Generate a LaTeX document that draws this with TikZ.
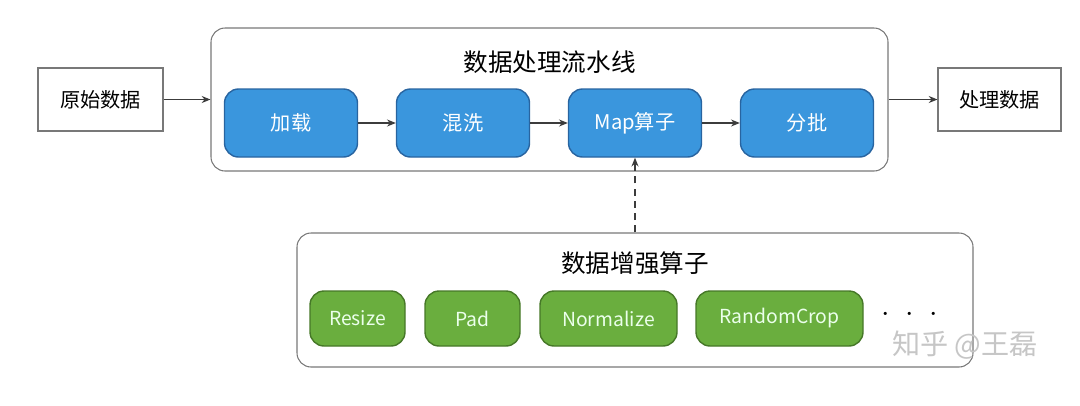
\documentclass[tikz,border=0pt]{standalone}
\usepackage{fontspec}
\setmainfont{Noto Sans CJK SC}
\usetikzlibrary{arrows.meta,positioning}
\definecolor{pipeblue}{RGB}{58,150,221}
\definecolor{pipeblueline}{RGB}{40,100,160}
\definecolor{auggreen}{RGB}{106,174,62}
\definecolor{auggreenline}{RGB}{70,120,40}
\definecolor{framegray}{RGB}{120,120,120}
\definecolor{arrowgray}{RGB}{60,60,60}

\begin{document}
\begin{tikzpicture}[
  iobox/.style={draw=framegray, line width=0.6pt, minimum width=2.48cm, minimum height=1.26cm, font=\fontsize{11.5}{13}\selectfont},
  groupbox/.style={draw=framegray, line width=0.6pt, rounded corners=8pt},
  stepbox/.style={rounded corners=8pt, draw=pipeblueline, fill=pipeblue, line width=0.8pt,
      minimum width=2.66cm, minimum height=1.36cm, text=white, font=\fontsize{11.5}{13}\selectfont},
  augbox/.style={rounded corners=8pt, draw=auggreenline, fill=auggreen, line width=0.8pt,
      minimum height=1.1cm, text=green!8, font=\fontsize{11}{13}\selectfont},
  flow/.style={-{Stealth[length=5pt,width=4pt]}, arrowgray, line width=0.6pt}
]
\useasboundingbox (0,0) rectangle (21.6,8.1);

% Pipeline box
\node[groupbox, minimum width=13.54cm, minimum height=2.86cm] (pipe) at (10.99,6.11) {};
\node[font=\fontsize{14}{16}\selectfont] (pipettl) at (10.99,6.86) {数据处理流水线};
\node[stepbox] (load) at (5.82,5.64) {加载};
\node[stepbox] (shuf) at (9.26,5.64) {混洗};
\node[stepbox] (map) at (12.70,5.64) {Map算子};
\node[stepbox] (batch) at (16.14,5.64) {分批};
\draw[flow] (load) -- (shuf);
\draw[flow] (shuf) -- (map);
\draw[flow] (map) -- (batch);

% Input and output
\node[iobox, minimum width=2.5cm] (raw) at (2.01,6.11) {原始数据};
\node[iobox, minimum width=2.46cm] (done) at (19.99,6.11) {处理数据};
\draw[flow] (raw) -- (pipe);
\draw[flow] (pipe) -- (done);

% Augmentation box
\node[groupbox, minimum width=13.52cm, minimum height=2.68cm] (aug) at (12.70,2.10) {};
\node[font=\fontsize{14}{16}\selectfont] (augttl) at (12.70,2.84) {数据增强算子};
\node[augbox, minimum width=1.9cm] (resize) at (7.15,1.73) {Resize};
\node[augbox, minimum width=1.9cm] (pad) at (9.45,1.73) {Pad};
\node[augbox, minimum width=2.74cm] (norm) at (12.17,1.73) {Normalize};
\node[augbox, minimum width=3.34cm] (crop) at (15.59,1.73) {RandomCrop};
\node[font=\fontsize{18}{20}\selectfont] (more) at (18.19,1.80) {$\cdot$\hspace{9pt}$\cdot$\hspace{9pt}$\cdot$};
\draw[flow, dashed, dash pattern=on 4pt off 3pt] (aug) -- (map);

% Watermark
\node[font=\fontsize{16}{18}\selectfont, text=gray!45] (mark) at (19.3,1.2) {知乎 @王磊};
\end{tikzpicture}
\end{document}
